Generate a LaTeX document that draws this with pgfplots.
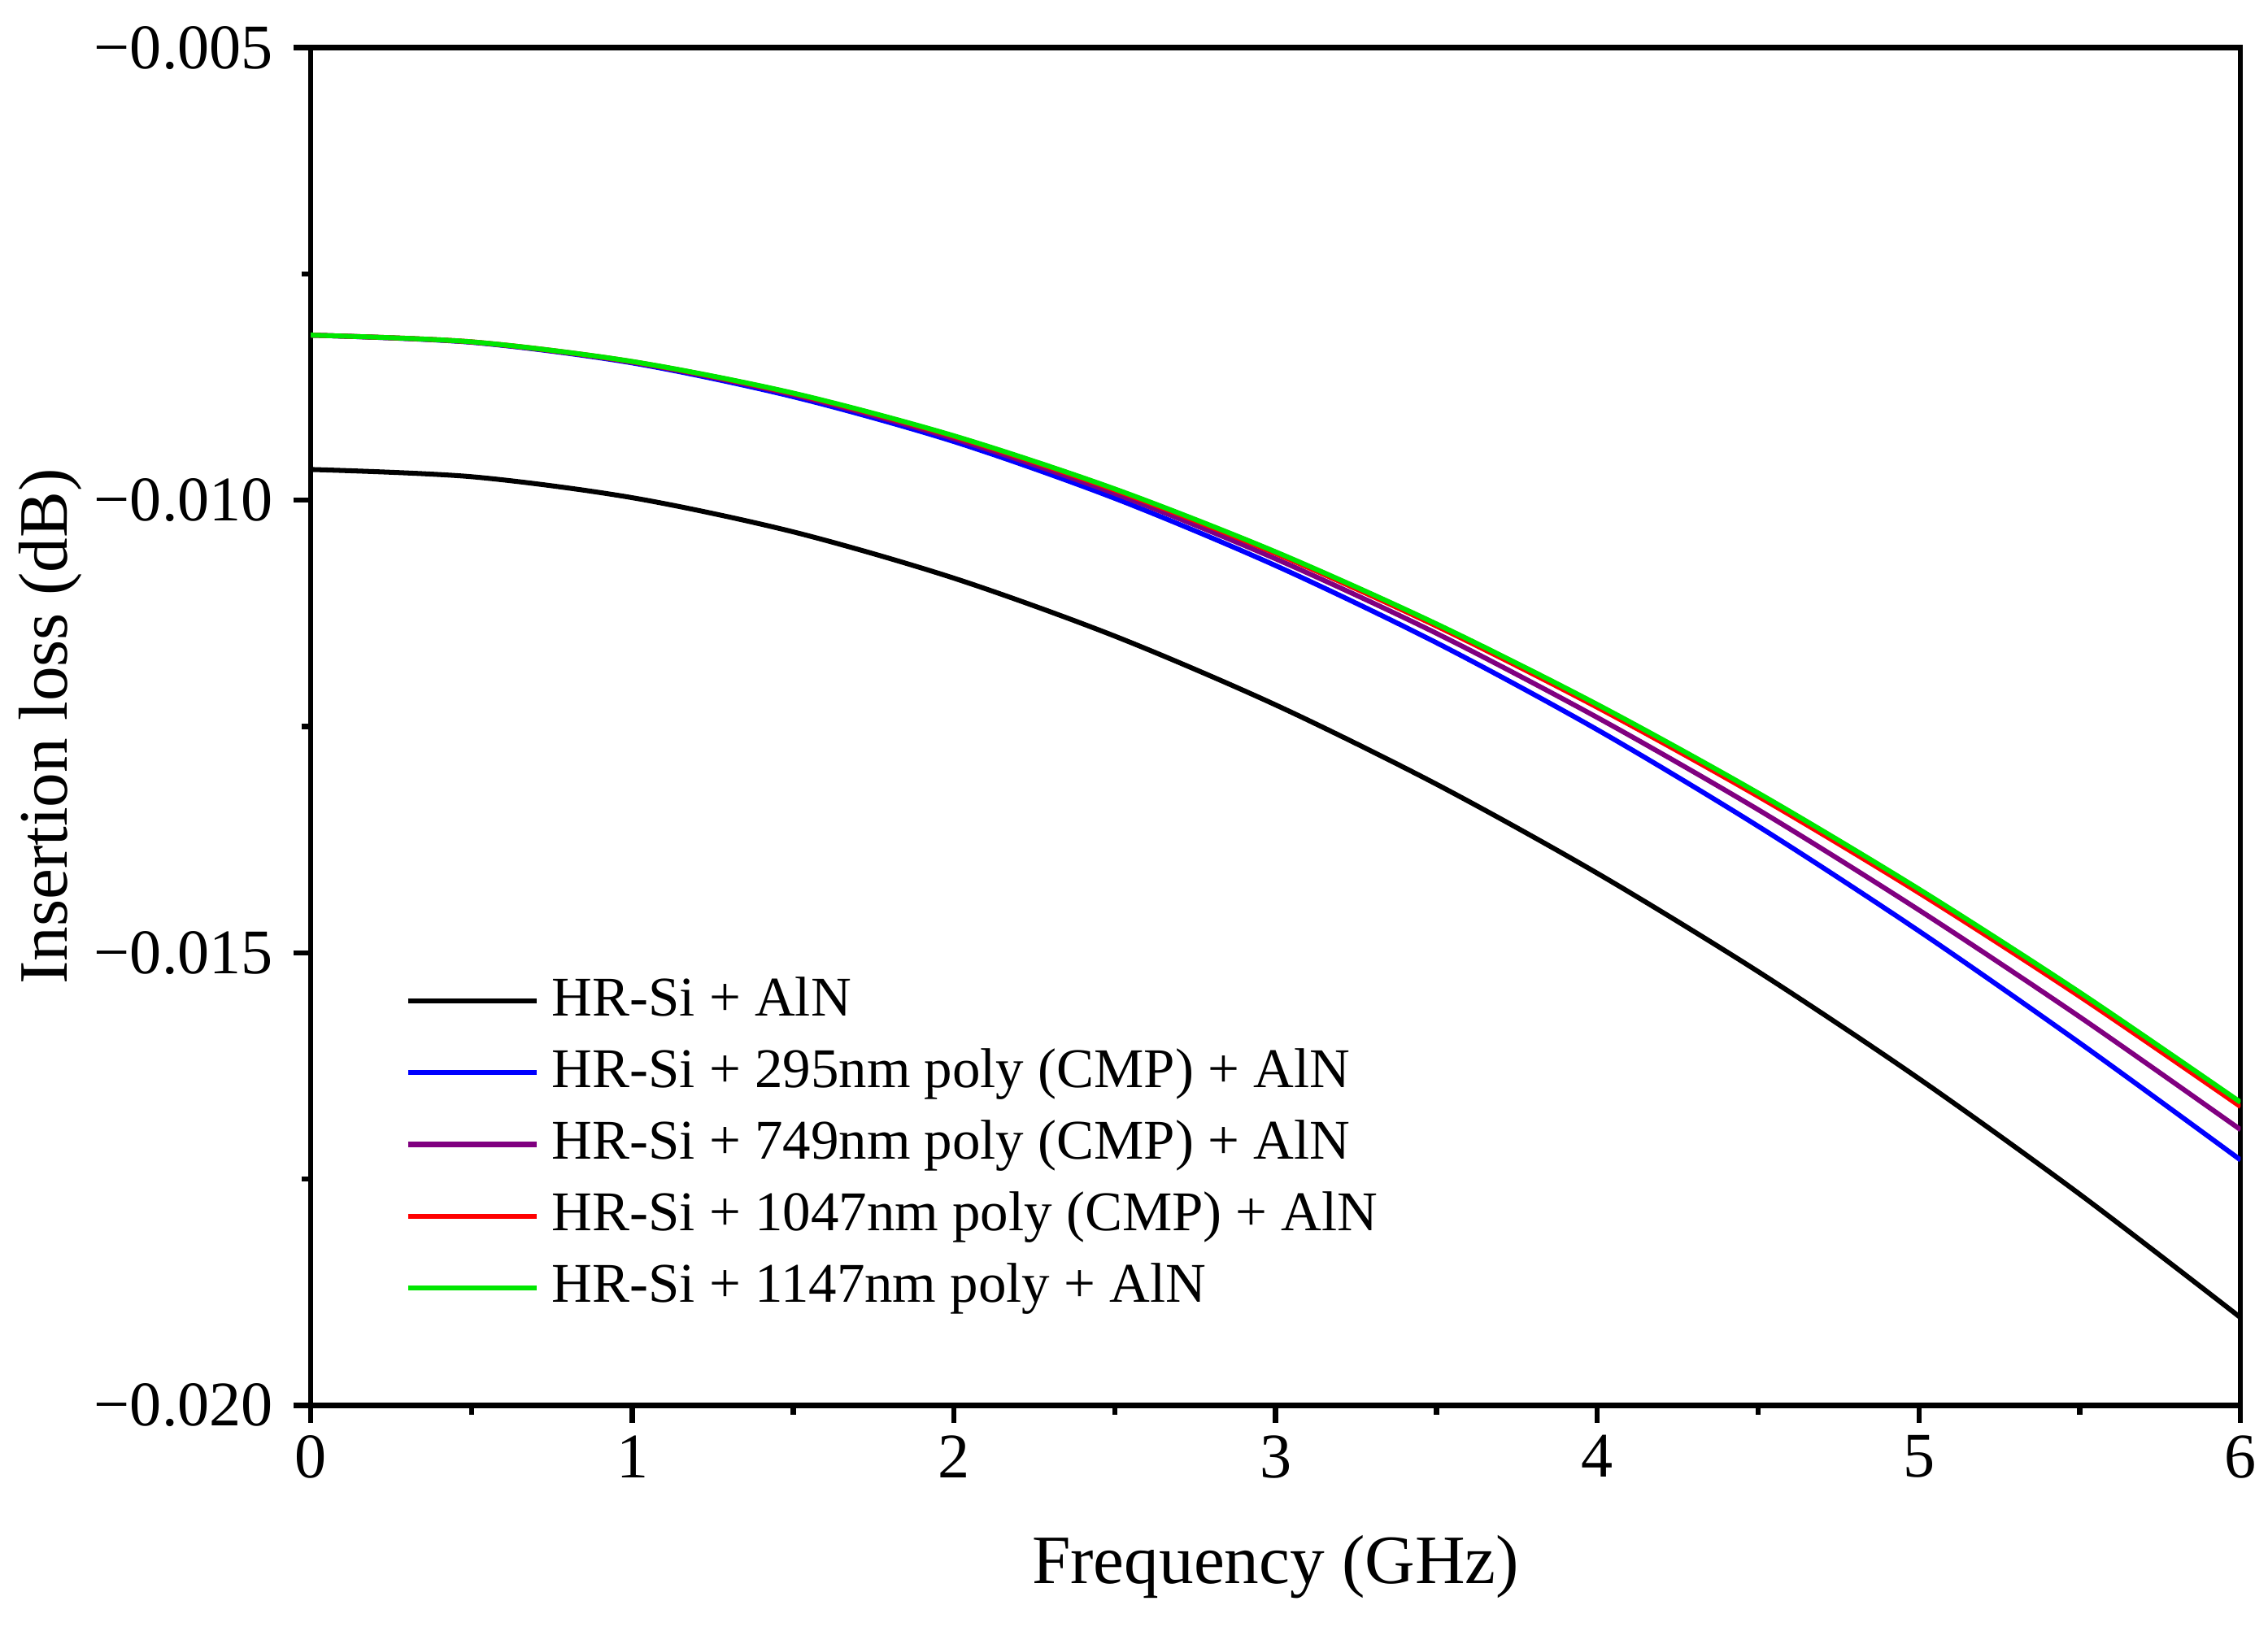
\documentclass[border=0pt]{standalone}
\usepackage{fontspec}
\setmainfont{Liberation Serif}
\usepackage{pgfplots}
\pgfplotsset{compat=1.18}

\definecolor{cpurple}{RGB}{128,0,128}
\definecolor{cgreen}{RGB}{0,230,0}

\begin{document}
\begin{tikzpicture}
\begin{axis}[
  scale only axis,
  width=334pt, height=235pt,
  xmin=0, xmax=6, ymin=-0.020, ymax=-0.005,
  axis line style={line width=0.9pt},
  every tick/.style={black, line width=0.9pt},
  tick align=outside, tick pos=left,
  major tick length=3pt, minor tick length=1.6pt,
  minor x tick num=1, minor y tick num=1,
  xtick={0,1,2,3,4,5,6},
  xticklabels={0,1,2,3,4,5,6},
  ytick={-0.020,-0.015,-0.010,-0.005},
  yticklabels={−0.020,−0.015,−0.010,−0.005},
  scaled y ticks=false,
  ticklabel style={font=\fontsize{11}{12}\selectfont},
  xticklabel style={inner sep=2pt},
  yticklabel style={inner sep=3.3pt},
  xlabel={Frequency (GHz)},
  ylabel={Insertion loss (dB)},
  label style={font=\fontsize{12}{14}\selectfont},
  xlabel style={at={(axis description cs:0.5,-0.119)}, anchor=center},
  ylabel style={at={(axis description cs:-0.1347,0.5)}, anchor=center},
  every axis plot/.append style={line width=0.85pt, smooth},
  legend cell align=left,
  legend style={draw=none, fill=none, font=\fontsize{9.7}{11}\selectfont,
    at={(axis description cs:0.0397,0.3286)}, anchor=north west,
    row sep=2.3pt, column sep=2.25pt,
    nodes={inner sep=0pt, text height=7.6pt, text depth=2.5pt}},
  legend image code/.code={\draw[#1] (0cm,0cm) -- (0.78cm,0cm);},
]
\addplot[black] coordinates {
(0,-0.009660) (0.5,-0.009740) (1,-0.009972) (1.5,-0.010349) (2,-0.010861)
(2.5,-0.011501) (3,-0.012261) (3.5,-0.013137) (4,-0.014121) (4.5,-0.015207)
(5,-0.016390) (5.5,-0.017667) (6,-0.019030)};
\addlegendentry{HR-Si + AlN}
\addplot[blue] coordinates {
(0,-0.008176) (0.5,-0.008255) (1,-0.008483) (1.5,-0.008856) (2,-0.009352)
(2.5,-0.009979) (3,-0.010722) (3.5,-0.011574) (4,-0.012535) (4.5,-0.013601)
(5,-0.014759) (5.5,-0.015996) (6,-0.017289)};
\addlegendentry{HR-Si + 295nm poly (CMP) + AlN}
\addplot[cpurple] coordinates {
(0,-0.008176) (0.5,-0.008253) (1,-0.008475) (1.5,-0.008835) (2,-0.009320)
(2.5,-0.009926) (3,-0.010647) (3.5,-0.011470) (4,-0.012400) (4.5,-0.013418)
(5,-0.014527) (5.5,-0.015708) (6,-0.016954)};
\addlegendentry{HR-Si + 749nm poly (CMP) + AlN}
\addplot[red] coordinates {
(0,-0.008176) (0.5,-0.008250) (1,-0.008469) (1.5,-0.008821) (2,-0.009296)
(2.5,-0.009888) (3,-0.010588) (3.5,-0.011390) (4,-0.012288) (4.5,-0.013271)
(5,-0.014337) (5.5,-0.015482) (6,-0.016699)};
\addlegendentry{HR-Si + 1047nm poly (CMP) + AlN}
\addplot[cgreen] coordinates {
(0,-0.008176) (0.5,-0.008250) (1,-0.008467) (1.5,-0.008816) (2,-0.009288)
(2.5,-0.009875) (3,-0.010570) (3.5,-0.011366) (4,-0.012256) (4.5,-0.013234)
(5,-0.014296) (5.5,-0.015437) (6,-0.016651)};
\addlegendentry{HR-Si + 1147nm poly + AlN}
\end{axis}
\path[use as bounding box] ([shift={(-53.25pt,-38.25pt)}]current axis.south west)
  rectangle ([shift={(4.75pt,8.25pt)}]current axis.north east);
\end{tikzpicture}
\end{document}
